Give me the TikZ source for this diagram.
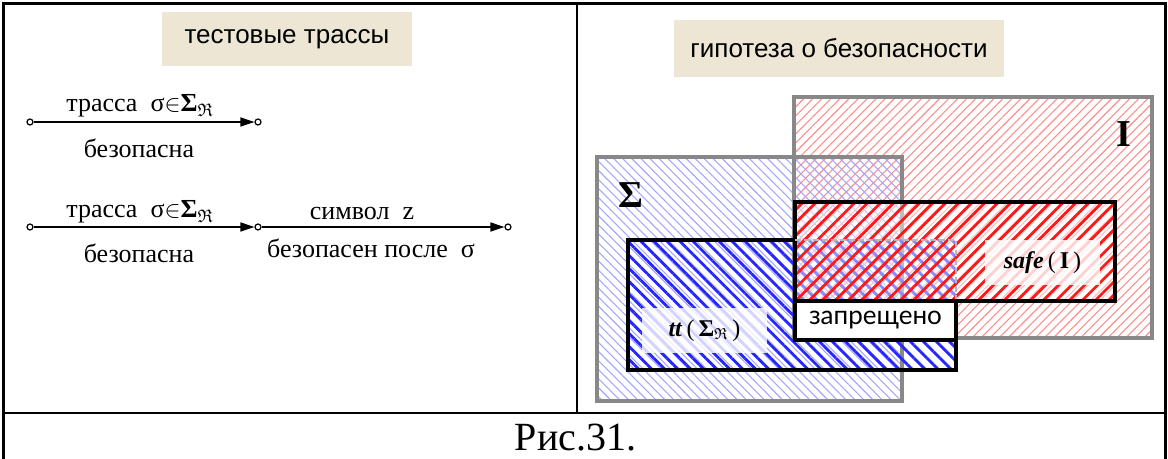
\documentclass[tikz,border=0pt]{standalone}
\usepackage{amssymb}
\usepackage{fontspec}
\setmainfont{Liberation Serif}
\newfontfamily\tagfont{Liberation Sans}
\newfontfamily\banfont{Lato}
\usetikzlibrary{arrows.meta,patterns.meta}

\definecolor{tagbg}{HTML}{EDE6D4}
\definecolor{rimgray}{HTML}{888888}

\begin{document}
\begin{tikzpicture}[
    x=0.5pt, y=-0.5pt,
    every node/.style={font=\fontsize{13}{15}\selectfont, inner sep=0pt},
    tag/.style={fill=tagbg, font=\tagfont\fontsize{13}{15}\selectfont},
    dot/.style={circle, draw, line width=0.6pt, minimum size=3pt},
    trace/.style={line width=0.8pt, -{Triangle[length=7pt,width=4.5pt]}},
    rim/.style={draw=rimgray, line width=1.6pt},
    edge/.style={draw=black, line width=1.6pt},
    thinred/.style={pattern={Lines[angle=45,distance=3.2pt,line width=0.55pt]}, pattern color=red!45},
    thinblue/.style={pattern={Lines[angle=-45,distance=3.2pt,line width=0.55pt]}, pattern color=blue!35},
    boldred/.style={pattern={Lines[angle=45,distance=4.6pt,line width=1.4pt]}, pattern color=red!90},
    boldblue/.style={pattern={Lines[angle=-45,distance=4.6pt,line width=1.4pt]}, pattern color=blue!85},
    veil/.style={fill=white, fill opacity=0.8, text opacity=1, font=\fontsize{12}{14}\selectfont},
    big/.style={font=\bfseries\fontsize{19}{22}\selectfont}
]
\useasboundingbox (0,0) rectangle (1168,459);

% Frame
\draw[line width=1.5pt] (3,459) -- (3,3.5) -- (1165,3.5) -- (1165,459);
\draw[line width=1pt] (577,3.5) -- (577,413);
\draw[line width=1pt] (3,413) -- (1165,413);

% Test traces
\node[tag, minimum width=125pt, minimum height=27pt] (tagl) at (287,39) {тестовые трассы};

\node[dot] (a1) at (30,122) {};
\node[dot] (a2) at (258,122) {};
\draw[trace] (a1) -- (a2);
\node[anchor=base] (a1up) at (140,112) {трасса\ \ σ$\in$\textbf{Σ}$_{\mathfrak{R}}$};
\node[anchor=base] (a1dn) at (139,158) {безопасна};

\node[dot] (b1) at (30,227) {};
\node[dot] (b2) at (258,227) {};
\node[dot] (b3) at (508,227) {};
\draw[trace] (b1) -- (b2);
\draw[trace] (b2) -- (b3);
\node[anchor=base] (b1up) at (140,218) {трасса\ \ σ$\in$\textbf{Σ}$_{\mathfrak{R}}$};
\node[anchor=base] (b1dn) at (139,263) {безопасна};
\node[anchor=base] (b2up) at (362,220) {символ\ \ z};
\node[anchor=base] (b2dn) at (371,258) {безопасен после\ \ σ};

% Safety hypothesis
\node[tag, minimum width=165pt, minimum height=28.5pt] (tagr) at (839,48.5) {гипотеза о безопасности};

\path[thinred] (794,97) rectangle (1152,338);
\path[thinblue] (597,157) rectangle (902,401);
\draw[rim] (794,97) rectangle (1152,338);
\draw[rim] (597,157) rectangle (902,401);

\path[boldblue] (628,240) rectangle (956,370);
\fill[white, opacity=0.45] (795,202) rectangle (1115,301);
\path[boldred] (795,202) rectangle (1115,301);

\draw[edge] (795,240) -- (628,240) -- (628,370) -- (956,370) -- (956,340);
\draw[edge] (795,202) rectangle (1115,301);
\draw[rimgray!60, line width=1pt, dash pattern=on 3pt off 1.5pt] (795,240) -- (956,240) -- (956,301);

\node[draw, line width=1.6pt, fill=white, minimum width=80.5pt, minimum height=19.5pt,
      font=\banfont\fontsize{13}{15}\selectfont] (ban) at (875.5,320.5) {запрещено};

% Labels
\node[big] (sig) at (631,195) {Σ};
\node[big] (inv) at (1124,134) {I};
\node[veil, minimum width=62.5pt, minimum height=22.5pt] (ttlbl) at (704.5,330.5)
    {\textbf{\textit{tt}}\,(\,\textbf{Σ}$_{\mathfrak{R}}$\,)};
\node[veil, minimum width=57.5pt, minimum height=22.5pt] (safelbl) at (1042.5,262.5)
    {\textbf{\textit{safe}}\,(\,\textbf{I}\,)};

% Caption
\node[anchor=base, font=\fontsize{20}{24}\selectfont] (cap) at (575.5,451) {Рис.31.};

\end{tikzpicture}
\end{document}
